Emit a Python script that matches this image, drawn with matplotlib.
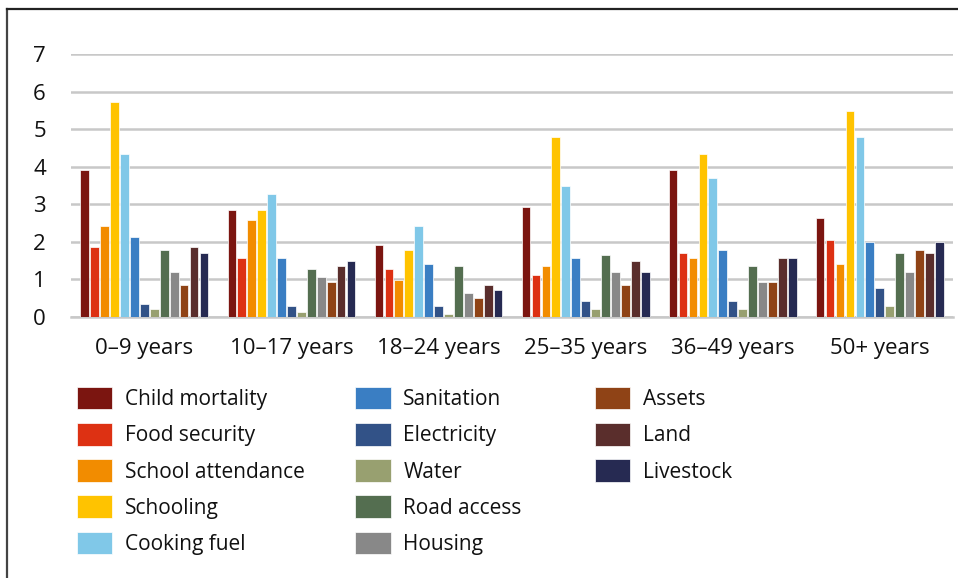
import numpy as np
import matplotlib
matplotlib.use("Agg")
import matplotlib.pyplot as plt
from matplotlib.lines import Line2D

plt.rcParams['font.family'] = ['Open Sans', 'DejaVu Sans']

groups = ["0–9 years", "10–17 years", "18–24 years", "25–35 years", "36–49 years", "50+ years"]

child_mortality   = [3.92, 2.85, 1.92, 2.92, 3.92, 2.64]
food_security     = [1.85, 1.57, 1.27, 1.13, 1.71, 2.06]
school_attendance = [2.42, 2.57, 0.99, 1.35, 1.57, 1.42]
schooling         = [5.71, 2.85, 1.78, 4.78, 4.35, 5.49]
cooking_fuel      = [4.35, 3.27, 2.42, 3.49, 3.71, 4.78]
sanitation        = [2.13, 1.57, 1.42, 1.57, 1.78, 1.99]
electricity       = [0.35, 0.28, 0.28, 0.42, 0.42, 0.78]
water             = [0.21, 0.14, 0.07, 0.21, 0.21, 0.28]
road_access       = [1.78, 1.27, 1.35, 1.64, 1.35, 1.71]
housing           = [1.21, 1.06, 0.64, 1.21, 0.92, 1.21]
assets            = [0.85, 0.92, 0.50, 0.85, 0.92, 1.78]
land              = [1.85, 1.35, 0.85, 1.50, 1.57, 1.71]
livestock         = [1.71, 1.50, 0.71, 1.21, 1.57, 1.99]

series = [
    ("Child mortality", child_mortality, "#7B1510"),
    ("Food security", food_security, "#DD3113"),
    ("School attendance", school_attendance, "#F28C00"),
    ("Schooling", schooling, "#FFC300"),
    ("Cooking fuel", cooking_fuel, "#80C8E8"),
    ("Sanitation", sanitation, "#3A7EC3"),
    ("Electricity", electricity, "#325287"),
    ("Water", water, "#98A070"),
    ("Road access", road_access, "#546E50"),
    ("Housing", housing, "#888888"),
    ("Assets", assets, "#8F4316"),
    ("Land", land, "#5A2E2C"),
    ("Livestock", livestock, "#262A52"),
]

fig = plt.figure(figsize=(9.58, 5.78), dpi=100)
ax = fig.add_axes([0.074, 0.4516, 0.921, 0.455])

x = np.arange(len(groups))
n = len(series)
step = 0.88 / n
handles = []
for i, (name, vals, col) in enumerate(series):
    b = ax.bar(x - 0.44 + step * (i + 0.5), vals, width=step * 0.85, color=col,
               edgecolor="white", linewidth=0.5, label=name, zorder=3)
    handles.append(b)

ax.set_ylim(0, 7)
ax.set_xlim(-0.5, len(groups) - 0.5)
ax.set_yticks(range(8))
ax.set_xticks(x)
ax.set_xticklabels(groups)
ax.tick_params(axis="both", length=0, colors="#111111")
ax.tick_params(axis="y", pad=18, labelsize=16)
ax.tick_params(axis="x", pad=15, labelsize=16)
ax.grid(axis="y", color="#C8C8C8", linewidth=1.8, zorder=0)
for s in ["left", "right", "top"]:
    ax.spines[s].set_visible(False)
ax.spines["bottom"].set_color("#C8C8C8")
ax.spines["bottom"].set_linewidth(1.8)

# legend in three columns
cols = [(handles[0:5], 0.080), (handles[5:10], 0.371), (handles[10:13], 0.621)]
for hs, xpos in cols:
    leg = fig.legend(hs, [h.get_label() for h in hs], loc="upper left",
                     bbox_to_anchor=(xpos, 0.331), frameon=False, fontsize=15,
                     handlelength=1.7, handleheight=1.3, handletextpad=0.6,
                     labelspacing=0.62, borderaxespad=0, borderpad=0)
    for t in leg.get_texts():
        t.set_color("#111111")

# frame lines at left and top
fig.add_artist(Line2D([0.0073, 0.0073], [0, 0.9844], color="#444444", linewidth=1.6))
fig.add_artist(Line2D([0.0073, 1.0], [0.9844, 0.9844], color="#222222", linewidth=1.6))

fig.savefig("out.png", dpi=100)
